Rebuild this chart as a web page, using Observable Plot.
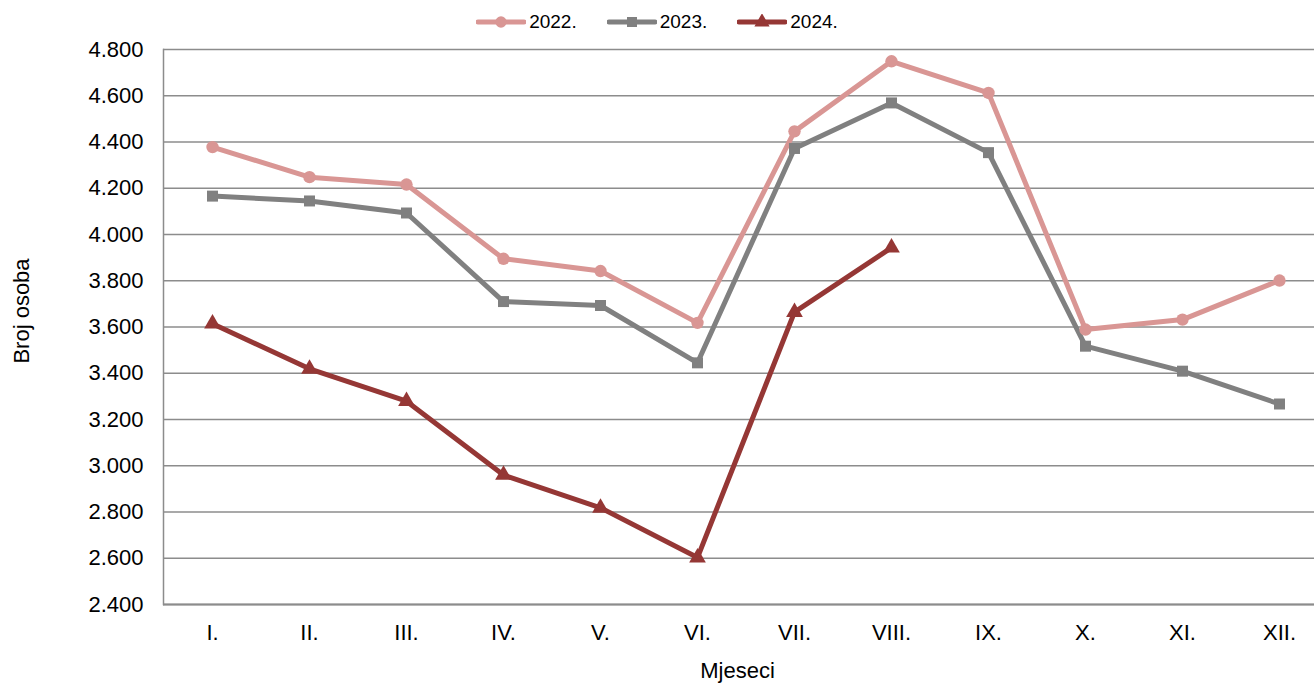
<!DOCTYPE html>
<html>
<head>
<meta charset="utf-8">
<script src="https://cdn.jsdelivr.net/npm/d3@7"></script>
<script src="https://cdn.jsdelivr.net/npm/@observablehq/plot@0.6"></script>
<style>
  html, body { margin: 0; padding: 0; background: #fff; overflow: hidden; }
  body { width: 1314px; font-family: "Liberation Sans", Arial, sans-serif; }
  #legend { height: 40px; display: flex; justify-content: center; align-items: center; gap: 30px; box-sizing: border-box; padding-top: 4px; }
  .item { display: flex; align-items: center; font-size: 19px; color: #000; }
  .item svg { margin-right: 3px; }
  #chart svg { display: block; max-width: none; }
</style>
</head>
<body>
<div id="legend"></div>
<div id="chart"></div>
<script>
const months = ["I.", "II.", "III.", "IV.", "V.", "VI.", "VII.", "VIII.", "IX.", "X.", "XI.", "XII."];
const years = ["2022.", "2023.", "2024."];
const v2022 = [4378, 4248, 4216, 3895, 3842, 3618, 4446, 4749, 4612, 3589, 3632, 3801];
const v2023 = [4166, 4145, 4093, 3710, 3693, 3445, 4372, 4569, 4354, 3517, 3409, 3267];
const v2024 = [3614, 3419, 3279, 2960, 2818, 2603, 3664, 3943];
const yTicks = [2400, 2600, 2800, 3000, 3200, 3400, 3600, 3800, 4000, 4200, 4400, 4600, 4800];
const yLabel = "Broj osoba";
const xLabel = "Mjeseci";
const colors = ["#d99694", "#808080", "#953735"];
const symbols = ["circle", "square", "triangle"];

const series = [v2022, v2023, v2024];
const data = [];
series.forEach((vals, i) => vals.forEach((v, j) => data.push({ year: years[i], month: months[j], value: v })));

const fmt = d => d3.format(",")(d).replace(/,/g, ".");

// Legend
const legend = document.getElementById("legend");
years.forEach((y, i) => {
  const item = document.createElement("div");
  item.className = "item";
  const s = d3.create("svg").attr("width", 50).attr("height", 16);
  s.append("line").attr("x1", 2).attr("x2", 48).attr("y1", 8).attr("y2", 8)
    .attr("stroke", colors[i]).attr("stroke-width", 5).attr("stroke-linecap", "round");
  const sym = [d3.symbolCircle, d3.symbolSquare, d3.symbolTriangle][i];
  s.append("path").attr("d", d3.symbol(sym, 100)()).attr("transform", "translate(25,8)").attr("fill", colors[i]);
  item.appendChild(s.node());
  const t = document.createElement("span");
  t.textContent = y;
  item.appendChild(t);
  legend.appendChild(item);
});

const chart = Plot.plot({
  width: 1314,
  height: 644,
  marginTop: 9,
  marginLeft: 163,
  marginRight: -13,
  marginBottom: 80,
  style: { fontFamily: "'Liberation Sans', Arial, sans-serif", fontSize: "22px", color: "#000", background: "#fff", overflow: "visible" },
  x: { type: "point", domain: months, padding: 0.5 },
  y: { domain: [2400, 4800] },
  color: { domain: years, range: colors },
  symbol: { domain: years, range: symbols },
  marks: [
    Plot.gridY(yTicks, { stroke: "#8c8c8c", strokeOpacity: 1, strokeWidth: 1.5 }),
    Plot.frame({ anchor: "left", stroke: "#8c8c8c", strokeWidth: 1.5 }),
    Plot.ruleY([2400], { stroke: "#8c8c8c", strokeWidth: 2 }),
    Plot.axisY(yTicks, { tickFormat: fmt, tickSize: 0, tickPadding: 20, label: null, fontSize: 22 }),
    Plot.axisX({ tickSize: 0, tickPadding: 20, label: null, fontSize: 22 }),
    Plot.text([yLabel], { text: d => d, frameAnchor: "left", textAnchor: "middle", lineAnchor: "middle", rotate: -90, dx: -142, dy: -16, fontSize: 22, fill: "#000" }),
    Plot.text([xLabel], { text: d => d, frameAnchor: "bottom", textAnchor: "middle", lineAnchor: "middle", dx: -8, dy: 66, fontSize: 22, fill: "#000" }),
    Plot.line(data, { x: "month", y: "value", z: "year", stroke: "year", strokeWidth: 5, strokeLinejoin: "round" }),
    Plot.dot(data, { x: "month", y: "value", symbol: "year", fill: "year", r: 6.2 })
  ]
});
document.getElementById("chart").appendChild(chart);
</script>
</body>
</html>
